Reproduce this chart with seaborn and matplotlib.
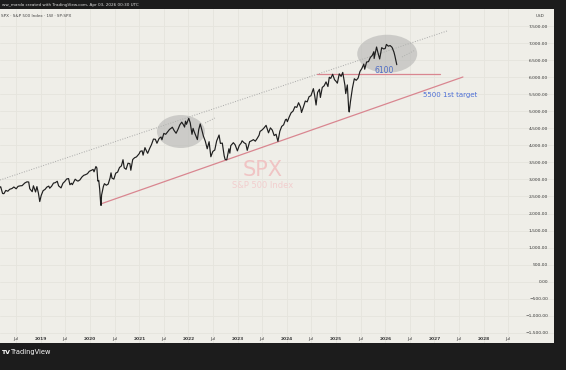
import matplotlib
matplotlib.use("Agg")
import matplotlib.pyplot as plt
import matplotlib.dates as mdates
from matplotlib.patches import Ellipse
import pandas as pd
import seaborn as sns

# ---------------- data (S&P 500) ----------------
d2018 = ["2018-02-23", "2018-03-09", "2018-03-23", "2018-04-02", "2018-04-16", "2018-05-01",
         "2018-05-15", "2018-06-01", "2018-06-15", "2018-07-02", "2018-07-16", "2018-08-01",
         "2018-08-15", "2018-09-04", "2018-09-20", "2018-10-03", "2018-10-11", "2018-10-29",
         "2018-11-07", "2018-11-23", "2018-12-03", "2018-12-14", "2018-12-24"]
v2018 = [2747, 2786, 2588, 2582, 2677, 2654, 2711, 2734, 2779, 2726, 2798, 2813,
         2818, 2896, 2930, 2925, 2728, 2641, 2814, 2633, 2790, 2600, 2351]

d2019 = ["2019-01-04", "2019-01-18", "2019-02-01", "2019-02-15", "2019-03-01", "2019-03-08",
         "2019-03-22", "2019-04-05", "2019-04-18", "2019-05-03", "2019-05-13", "2019-05-31",
         "2019-06-14", "2019-06-28", "2019-07-12", "2019-07-26", "2019-08-05", "2019-08-16",
         "2019-08-23", "2019-09-13", "2019-09-27", "2019-10-04", "2019-10-18", "2019-11-01",
         "2019-11-15", "2019-11-29", "2019-12-13", "2019-12-27"]
v2019 = [2532, 2671, 2707, 2776, 2804, 2743, 2801, 2893, 2905, 2946, 2812, 2752,
         2887, 2942, 3014, 3026, 2845, 2889, 2847, 3007, 2962, 2952, 2986, 3067,
         3120, 3141, 3169, 3240]

d2020 = ["2020-01-10", "2020-01-24", "2020-01-31", "2020-02-14", "2020-02-21", "2020-02-28",
         "2020-03-06", "2020-03-13", "2020-03-20", "2020-03-23", "2020-03-27", "2020-04-09",
         "2020-04-17", "2020-05-01", "2020-05-15", "2020-05-29", "2020-06-05", "2020-06-12",
         "2020-06-26", "2020-07-10", "2020-07-24", "2020-08-07", "2020-08-21", "2020-09-02",
         "2020-09-11", "2020-09-25", "2020-10-09", "2020-10-23", "2020-10-30", "2020-11-13",
         "2020-11-27", "2020-12-11", "2020-12-31"]
v2020 = [3265, 3295, 3225, 3380, 3337, 2954, 2972, 2711, 2305, 2237, 2541, 2790,
         2875, 2831, 2864, 3044, 3194, 3041, 3009, 3185, 3216, 3351, 3397, 3580,
         3341, 3298, 3477, 3465, 3270, 3585, 3638, 3663, 3756]

d2021 = ["2021-01-08", "2021-01-22", "2021-01-29", "2021-02-12", "2021-02-26", "2021-03-04",
         "2021-03-19", "2021-04-01", "2021-04-16", "2021-04-30", "2021-05-12", "2021-05-28",
         "2021-06-11", "2021-06-18", "2021-07-02", "2021-07-16", "2021-07-30", "2021-08-13",
         "2021-08-27", "2021-09-03", "2021-09-17", "2021-10-01", "2021-10-15", "2021-10-29",
         "2021-11-12", "2021-11-26", "2021-12-03", "2021-12-10", "2021-12-17", "2021-12-31"]
v2021 = [3825, 3841, 3714, 3934, 3811, 3768, 3913, 4020, 4185, 4181, 4063, 4204,
         4247, 4166, 4352, 4327, 4395, 4468, 4509, 4535, 4433, 4357, 4471, 4605,
         4683, 4595, 4538, 4712, 4620, 4766]

d2022 = ["2022-01-03", "2022-01-14", "2022-01-27", "2022-02-04", "2022-02-11", "2022-02-24",
         "2022-03-08", "2022-03-18", "2022-03-29", "2022-04-08", "2022-04-22", "2022-05-06",
         "2022-05-20", "2022-06-03", "2022-06-16", "2022-07-01", "2022-07-15", "2022-07-29",
         "2022-08-16", "2022-08-26", "2022-09-09", "2022-09-23", "2022-09-30", "2022-10-12",
         "2022-10-28", "2022-11-04", "2022-11-11", "2022-11-30", "2022-12-13", "2022-12-30"]
v2022 = [4796, 4662, 4326, 4500, 4418, 4288, 4170, 4463, 4631, 4488, 4272, 4123,
         3901, 4109, 3667, 3825, 3863, 4130, 4305, 4058, 4068, 3693, 3586, 3577,
         3901, 3771, 3993, 4080, 4019, 3840]

d2023 = ["2023-01-13", "2023-01-27", "2023-02-03", "2023-02-17", "2023-03-03", "2023-03-13",
         "2023-03-31", "2023-04-14", "2023-04-28", "2023-05-12", "2023-05-26", "2023-06-09",
         "2023-06-16", "2023-06-30", "2023-07-14", "2023-07-31", "2023-08-18", "2023-09-01",
         "2023-09-15", "2023-09-29", "2023-10-13", "2023-10-27", "2023-11-10", "2023-11-24",
         "2023-12-08", "2023-12-22", "2023-12-29"]
v2023 = [3999, 4070, 4136, 4079, 4046, 3855, 4109, 4137, 4169, 4124, 4205, 4299,
         4410, 4450, 4505, 4589, 4370, 4515, 4450, 4288, 4327, 4117, 4415, 4559,
         4604, 4755, 4770]

d2024 = ["2024-01-05", "2024-01-19", "2024-02-02", "2024-02-16", "2024-03-01", "2024-03-15",
         "2024-03-28", "2024-04-12", "2024-04-19", "2024-05-03", "2024-05-17", "2024-05-31",
         "2024-06-14", "2024-06-28", "2024-07-16", "2024-07-26", "2024-08-05", "2024-08-16",
         "2024-08-30", "2024-09-06", "2024-09-20", "2024-10-04", "2024-10-18", "2024-11-01",
         "2024-11-11", "2024-11-22", "2024-12-06", "2024-12-20", "2024-12-31"]
v2024 = [4697, 4840, 4959, 5006, 5137, 5117, 5254, 5123, 4967, 5128, 5303, 5278,
         5431, 5460, 5667, 5459, 5186, 5554, 5648, 5408, 5703, 5751, 5865, 5729,
         6001, 5969, 6090, 5930, 5882]

d2025 = ["2025-01-10", "2025-01-24", "2025-02-07", "2025-02-19", "2025-03-07", "2025-03-13",
         "2025-03-25", "2025-04-04", "2025-04-08", "2025-04-17", "2025-05-02", "2025-05-16",
         "2025-05-30", "2025-06-13", "2025-06-27", "2025-07-11", "2025-07-25", "2025-08-01",
         "2025-08-15", "2025-08-29", "2025-09-12", "2025-09-26", "2025-10-08", "2025-10-10",
         "2025-10-28", "2025-11-07", "2025-11-20", "2025-12-05", "2025-12-19", "2025-12-31"]
v2025 = [5827, 6101, 6026, 6144, 5770, 5522, 5776, 5074, 4982, 5283, 5686, 5958,
         5912, 5977, 6173, 6260, 6389, 6238, 6449, 6460, 6584, 6643, 6753, 6552,
         6890, 6728, 6538, 6870, 6834, 6845]

d2026 = ["2026-01-09", "2026-01-23", "2026-02-06", "2026-02-20", "2026-03-06", "2026-03-13",
         "2026-03-20", "2026-03-27"]
v2026 = [6966, 6915, 6932, 6880, 6740, 6630, 6500, 6370]

# drawings on the chart
support_dates = ["2020-03-20", "2027-07-31"]
support_values = [2280, 6009]
level_dates = ["2024-08-10", "2027-02-10"]
level_values = [6100, 6100]
upper_dates = ["2018-03-04", "2027-04-04"]
upper_values = [2984, 7360]
proj1_dates = ["2022-05-05", "2022-07-16"]
proj1_values = [4658, 4805]
proj2_dates = ["2026-05-05", "2026-08-12"]
proj2_values = [6596, 6802]

x_tick_dates = ["2018-07-01", "2019-01-01", "2019-07-01", "2020-01-01", "2020-07-01",
                "2021-01-01", "2021-07-01", "2022-01-01", "2022-07-01", "2023-01-01",
                "2023-07-01", "2024-01-01", "2024-07-01", "2025-01-01", "2025-07-01",
                "2026-01-01", "2026-07-01", "2027-01-01", "2027-07-01", "2028-01-01",
                "2028-07-01"]
x_tick_labels = ["Jul", "2019", "Jul", "2020", "Jul", "2021", "Jul", "2022", "Jul", "2023",
                 "Jul", "2024", "Jul", "2025", "Jul", "2026", "Jul", "2027", "Jul", "2028", "Jul"]
y_ticks = list(range(-1500, 7501, 500))

# ---------------- figure ----------------
sns.set_style("white")
plt.rcParams["font.family"] = ["DejaVu Sans"]

W, H = 566, 370
fig = plt.figure(figsize=(W / 100, H / 100), dpi=100, facecolor="#1c1c1c")
ax = fig.add_axes([0, 27 / H, 554 / W, 334 / H])
ax.set_facecolor("#efeee8")

dates = d2018 + d2019 + d2020 + d2021 + d2022 + d2023 + d2024 + d2025 + d2026
closes = v2018 + v2019 + v2020 + v2021 + v2022 + v2023 + v2024 + v2025 + v2026
df = pd.DataFrame({"date": pd.to_datetime(dates), "close": closes})

sns.lineplot(data=df, x="date", y="close", ax=ax, color="#1e1e1e", linewidth=0.85, zorder=6)

ax.set_xlim(pd.Timestamp("2018-03-04"), pd.Timestamp("2029-06-06"))
ax.set_ylim(-1803, 8006)
ax.set_xlabel("")
ax.set_ylabel("")

# drawings
ax.plot(pd.to_datetime(upper_dates), upper_values, color="#a8a8a8", lw=0.7,
        linestyle=(0, (1, 1.6)), zorder=2)
ax.plot(pd.to_datetime(proj1_dates), proj1_values, color="#a8a8a8", lw=0.7,
        linestyle=(0, (1, 1.6)), zorder=2)
ax.plot(pd.to_datetime(proj2_dates), proj2_values, color="#a8a8a8", lw=0.7,
        linestyle=(0, (1, 1.6)), zorder=2)
ax.plot(pd.to_datetime(support_dates), support_values, color="#d98690", lw=0.9, zorder=4)
ax.plot(pd.to_datetime(level_dates), level_values, color="#d98690", lw=0.9, zorder=4)

for cx, cy, wd, ht in [("2021-11-06", 4408, 356, 969), ("2026-01-15", 6690, 445, 1120)]:
    e = Ellipse((mdates.date2num(pd.Timestamp(cx)), cy), wd, ht,
                facecolor="#b5b5b3", edgecolor="none", alpha=0.6, zorder=5)
    ax.add_patch(e)

ax.text(pd.Timestamp("2025-12-22"), 6200, "6100", color="#4e6cc4", fontsize=5.5,
        ha="center", va="center", zorder=7)
ax.text(pd.Timestamp("2027-04-25"), 5466, "5500 1st target", color="#4d6fd6", fontsize=5,
        ha="center", va="center", zorder=7)
ax.text(pd.Timestamp("2023-07-07"), 3278, "SPX", color="#f0c4c4", fontsize=15,
        ha="center", va="center", zorder=1)
ax.text(pd.Timestamp("2023-07-07"), 2808, "S&P 500 Index", color="#f2cece", fontsize=6,
        ha="center", va="center", zorder=1)

# axes styling
ax.set_xticks(pd.to_datetime(x_tick_dates))
ax.set_xticklabels(x_tick_labels)
for lbl in ax.get_xticklabels():
    if lbl.get_text() != "Jul":
        lbl.set_fontweight("bold")
ax.tick_params(axis="x", length=0, pad=-4.6, labelsize=3.2, labelcolor="#3a3a3a")

ax.yaxis.tick_right()
ax.set_yticks(y_ticks)
ax.set_yticklabels([f"{v:,.2f}".replace("-", "\u2212") for v in y_ticks])
ax.tick_params(axis="y", length=0, pad=-4.3, labelsize=3.2, labelcolor="#3a3a3a")
for t in ax.yaxis.get_major_ticks():
    t.label2.set_horizontalalignment("right")

ax.grid(True, color="#e5e4dd", lw=0.6)
ax.set_axisbelow(True)
for s in ax.spines.values():
    s.set_visible(False)

ax.text(0.975, 0.985, "USD", transform=ax.transAxes, fontsize=3, color="#3a3a3a",
        ha="center", va="top")
ax.text(0.002, 0.985, "SPX · S&P 500 Index · 1W · SP:SPX", transform=ax.transAxes,
        fontsize=3, color="#444444", ha="left", va="top")

fig.text(2 / W, 1 - 5 / H, "ww_mardo created with TradingView.com, Apr 03, 2026 00:30 UTC",
         color="#dddddd", fontsize=3, ha="left", va="center")
fig.text(1 / W, 1 - 352 / H, "TV", color="white", fontsize=4.5, fontweight="bold",
         ha="left", va="center")
fig.text(11 / W, 1 - 352 / H, "TradingView", color="white", fontsize=4.8,
         ha="left", va="center")

fig.savefig("out.png", dpi=100, facecolor=fig.get_facecolor())
